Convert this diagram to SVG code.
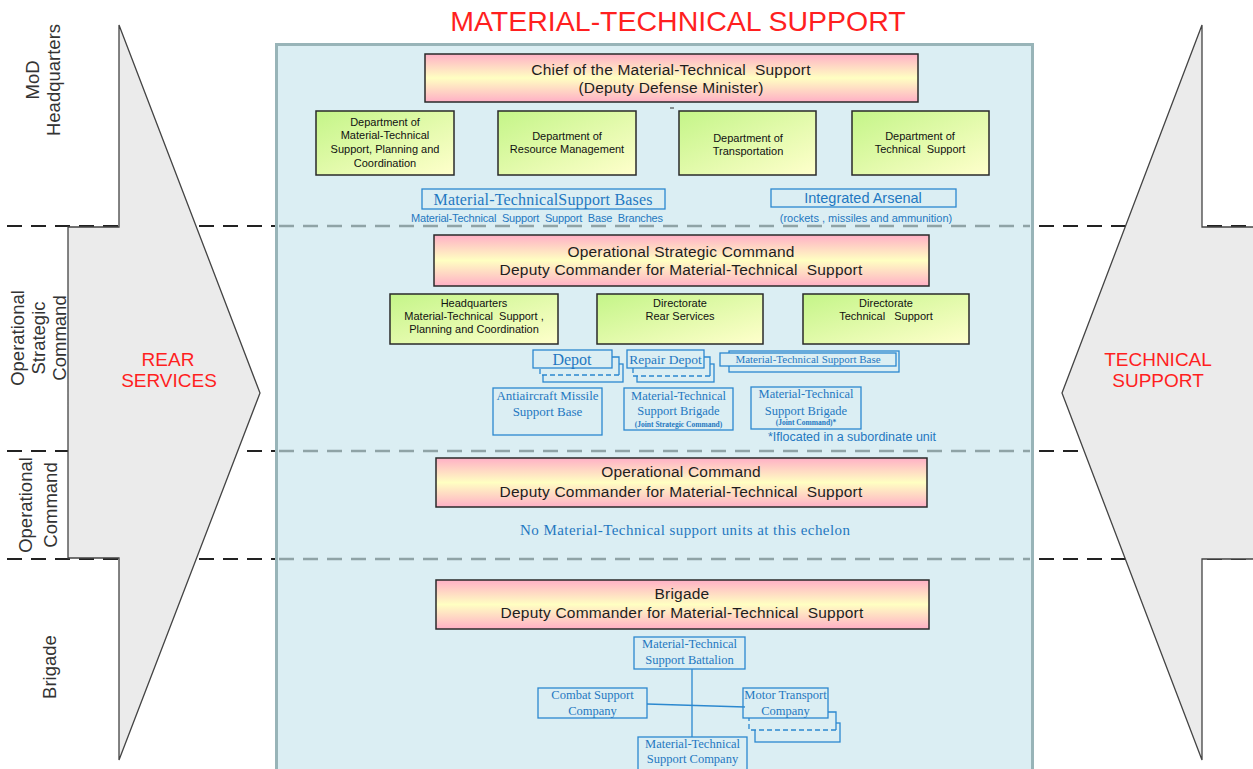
<svg xmlns="http://www.w3.org/2000/svg" width="1253" height="769" viewBox="0 0 1253 769">
<defs>
<linearGradient id="pink" x1="0" y1="0" x2="0" y2="1">
<stop offset="0" stop-color="#ffb0c6"/><stop offset="0.5" stop-color="#ffffc2"/><stop offset="1" stop-color="#ffb0c6"/>
</linearGradient>
<linearGradient id="green" x1="0" y1="0" x2="1" y2="1">
<stop offset="0" stop-color="#c4f588"/><stop offset="1" stop-color="#ffffcc"/>
</linearGradient>
<style>
.sans{font-family:"Liberation Sans",Arial,sans-serif}
.serif{font-family:"Liberation Serif","Times New Roman",serif}
.blk{stroke:#222;stroke-width:2;stroke-dasharray:15 9;fill:none}
.gry{stroke:#8fa3a6;stroke-width:2.5;stroke-dasharray:15 9;fill:none}
.arrow{fill:#ebebeb;stroke:#444;stroke-width:1.3}
.lvl{font-size:18.5px;fill:#333}
.red{fill:#ff1f1f}
.pbox{fill:url(#pink);stroke:#2a2a2a;stroke-width:1.5}
.gbox{fill:url(#green);stroke:#2a2a2a;stroke-width:1.5}
.ptxt{font-size:15.5px;fill:#1e1e1e;text-anchor:middle;letter-spacing:0.2px}
.gtxt{font-size:11px;fill:#111;text-anchor:middle}
.bbox{fill:#dbeef3;stroke:#2b88cf;stroke-width:1.3}
.bline{fill:none;stroke:#2b88cf;stroke-width:1.3}
.bdash{fill:none;stroke:#2b88cf;stroke-width:1.3;stroke-dasharray:5 3}
.btxt{fill:#1f78c1;text-anchor:middle}
</style>
</defs>
<rect width="1253" height="769" fill="#ffffff"/>

<g id="level-lines">
<line class="blk" x1="7" y1="226" x2="1253" y2="226"/>
<line class="blk" x1="7" y1="451" x2="1253" y2="451"/>
<line class="blk" x1="7" y1="559" x2="1253" y2="559"/>
</g>

<g id="rear-services-arrow">
<polygon class="arrow" points="119,25 260,393 119,760 119,558 68,558 68,227 119,227"/>
<text class="sans red" font-size="19" text-anchor="middle" x="168" y="366">REAR</text>
<text class="sans red" font-size="19" text-anchor="middle" x="169" y="387">SERVICES</text>
</g>
<g id="technical-support-arrow">
<polygon class="arrow" points="1202,25 1062,393 1202,760 1202,559 1262,559 1262,227 1202,227"/>
<text class="sans red" font-size="19" text-anchor="middle" x="1158" y="366">TECHNICAL</text>
<text class="sans red" font-size="19" text-anchor="middle" x="1158" y="387">SUPPORT</text>
</g>

<g id="level-labels" class="sans lvl" text-anchor="middle">
<text transform="translate(39,80) rotate(-90)">MoD</text>
<text transform="translate(60,80) rotate(-90)">Headquarters</text>
<text transform="translate(24,338) rotate(-90)">Operational</text>
<text transform="translate(45,338) rotate(-90)">Strategic</text>
<text transform="translate(66,338) rotate(-90)">Command</text>
<text transform="translate(32,505) rotate(-90)">Operational</text>
<text transform="translate(57,505) rotate(-90)">Command</text>
<text transform="translate(56,667) rotate(-90)">Brigade</text>
</g>

<text id="title" class="sans red" font-size="28.5" text-anchor="middle" x="678" y="31">MATERIAL-TECHNICAL SUPPORT</text>

<g id="panel">
<rect x="276.5" y="44.5" width="756" height="740" fill="#dbeef3" stroke="#98b4b8" stroke-width="3"/>
<line class="gry" x1="279" y1="226" x2="1030" y2="226"/>
<line class="gry" x1="279" y1="451" x2="1030" y2="451"/>
<line class="gry" x1="279" y1="559" x2="1030" y2="559"/>
</g>

<!-- MoD level -->
<g id="chief" class="sans">
<rect class="pbox" x="425" y="54" width="493" height="48"/>
<text class="ptxt" x="671" y="75" xml:space="preserve">Chief of the Material-Technical  Support</text>
<text class="ptxt" x="671" y="93">(Deputy Defense Minister)</text>
<line x1="670" y1="108" x2="674" y2="108" stroke="#333" stroke-width="1"/>
</g>
<g id="dept-mts-planning" class="sans">
<rect class="gbox" x="316" y="111" width="138" height="64"/>
<text class="gtxt" x="385" y="126">Department of</text>
<text class="gtxt" x="385" y="139">Material-Technical</text>
<text class="gtxt" x="385" y="153">Support, Planning and</text>
<text class="gtxt" x="385" y="167">Coordination</text>
</g>
<g id="dept-resource" class="sans">
<rect class="gbox" x="498" y="111" width="138" height="64"/>
<text class="gtxt" x="567" y="140">Department of</text>
<text class="gtxt" x="567" y="153">Resource Management</text>
</g>
<g id="dept-transport" class="sans">
<rect class="gbox" x="679" y="111" width="137" height="64"/>
<text class="gtxt" x="748" y="142">Department of</text>
<text class="gtxt" x="748" y="155">Transportation</text>
</g>
<g id="dept-technical" class="sans">
<rect class="gbox" x="852" y="111" width="137" height="64"/>
<text class="gtxt" x="920" y="140">Department of</text>
<text class="gtxt" x="920" y="153" xml:space="preserve">Technical  Support</text>
</g>
<g id="mts-bases">
<rect class="bbox" x="422" y="189" width="243" height="20"/>
<text class="serif btxt" font-size="16" x="543" y="205" textLength="219" lengthAdjust="spacing">Material-TechnicalSupport Bases</text>
<text class="sans btxt" font-size="11" x="537" y="222" xml:space="preserve" textLength="252" lengthAdjust="spacing">Material-Technical  Support  Support  Base  Branches</text>
</g>
<g id="arsenal">
<rect class="bbox" x="771" y="189" width="185" height="18"/>
<text class="sans btxt" font-size="14.5" x="863" y="203">Integrated Arsenal</text>
<text class="sans btxt" font-size="11" x="866" y="222">(rockets , missiles and ammunition)</text>
</g>

<!-- Operational Strategic Command -->
<g id="osc" class="sans">
<rect class="pbox" x="434" y="235" width="495" height="51"/>
<text class="ptxt" x="681" y="257">Operational Strategic Command</text>
<text class="ptxt" x="681" y="275" xml:space="preserve">Deputy Commander for Material-Technical  Support</text>
</g>
<g id="osc-hq" class="sans">
<rect class="gbox" x="390" y="294" width="168" height="50"/>
<text class="gtxt" x="474" y="307">Headquarters</text>
<text class="gtxt" x="474" y="320" xml:space="preserve">Material-Technical  Support ,</text>
<text class="gtxt" x="474" y="333">Planning and Coordination</text>
</g>
<g id="osc-rear" class="sans">
<rect class="gbox" x="597" y="294" width="166" height="50"/>
<text class="gtxt" x="680" y="307">Directorate</text>
<text class="gtxt" x="680" y="320">Rear Services</text>
</g>
<g id="osc-tech" class="sans">
<rect class="gbox" x="803" y="294" width="166" height="50"/>
<text class="gtxt" x="886" y="307">Directorate</text>
<text class="gtxt" x="886" y="320" xml:space="preserve">Technical   Support</text>
</g>
<g id="depot">
<rect class="bbox" x="543" y="364" width="80" height="18"/>
<rect x="540" y="357" width="79" height="18" fill="#dbeef3"/>
<path class="bline" d="M540,357 H619 V375"/>
<path class="bdash" d="M619,375 H540 V357"/>
<rect class="bbox" x="533" y="350" width="79" height="18"/>
<text class="serif btxt" font-size="16" x="572" y="365">Depot</text>
</g>
<g id="repair-depot">
<rect class="bbox" x="637" y="364" width="77" height="18"/>
<rect x="633" y="357" width="77" height="19" fill="#dbeef3"/>
<path class="bline" d="M633,357 H710 V376"/>
<path class="bdash" d="M710,376 H633 V357"/>
<rect class="bbox" x="627" y="350" width="77" height="18"/>
<text class="serif btxt" font-size="13.5" x="665.5" y="364">Repair Depot</text>
</g>
<g id="mts-base">
<rect class="bbox" x="729" y="351" width="170" height="21"/>
<rect class="bbox" x="720" y="353" width="176" height="13"/>
<text class="serif btxt" font-size="11" x="808" y="363">Material-Technical Support Base</text>
</g>
<g id="aa-missile-base">
<rect class="bbox" x="493" y="388" width="109" height="47"/>
<text class="serif btxt" font-size="13" x="547.5" y="400">Antiaircraft Missile</text>
<text class="serif btxt" font-size="13" x="547.5" y="416">Support Base</text>
</g>
<g id="mts-brigade-jsc">
<rect class="bbox" x="624" y="388" width="109" height="42"/>
<text class="serif btxt" font-size="12.5" x="678.5" y="400">Material-Technical</text>
<text class="serif btxt" font-size="12.5" x="678.5" y="415">Support Brigade</text>
<text class="serif btxt" font-size="7.5" font-weight="bold" x="678.5" y="427">(Joint Strategic Command)</text>
</g>
<g id="mts-brigade-jc">
<rect class="bbox" x="751" y="387" width="110" height="42"/>
<text class="serif btxt" font-size="12.5" x="806" y="398">Material-Technical</text>
<text class="serif btxt" font-size="12.5" x="806" y="415">Support Brigade</text>
<text class="serif btxt" font-size="7.5" font-weight="bold" x="806" y="425">(Joint Command)*</text>
</g>
<text id="footnote" class="sans btxt" font-size="12.5" x="852" y="441">*Iflocated in a subordinate unit</text>

<!-- Operational Command -->
<g id="oc" class="sans">
<rect class="pbox" x="436" y="458" width="491" height="49"/>
<text class="ptxt" x="681" y="477">Operational Command</text>
<text class="ptxt" x="681" y="497" xml:space="preserve">Deputy Commander for Material-Technical  Support</text>
</g>
<text id="oc-note" class="serif btxt" font-size="15" x="685" y="535" textLength="330" lengthAdjust="spacing">No Material-Technical support units at this echelon</text>

<!-- Brigade -->
<g id="brigade" class="sans">
<rect class="pbox" x="436" y="580" width="493" height="49"/>
<text class="ptxt" x="682" y="599">Brigade</text>
<text class="ptxt" x="682" y="618" xml:space="preserve">Deputy Commander for Material-Technical  Support</text>
</g>

<g id="connectors">
<line class="bline" x1="692" y1="669" x2="692" y2="737"/>
<line class="bline" x1="647" y1="704" x2="745" y2="707"/>
</g>

<g id="mts-battalion">
<rect class="bbox" x="634" y="637" width="111" height="32"/>
<text class="serif btxt" font-size="12.5" x="689.5" y="648">Material-Technical</text>
<text class="serif btxt" font-size="12.5" x="689.5" y="664">Support Battalion</text>
</g>
<g id="combat-support-co">
<rect class="bbox" x="538" y="688" width="109" height="30"/>
<text class="serif btxt" font-size="12.5" x="592.5" y="699">Combat Support</text>
<text class="serif btxt" font-size="12.5" x="592.5" y="715">Company</text>
</g>
<g id="motor-transport-co">
<rect class="bbox" x="755" y="723" width="85" height="19"/>
<rect x="749" y="712" width="87" height="18" fill="#dbeef3"/>
<path class="bline" d="M828,712 H836 V730"/>
<path class="bdash" d="M836,730 H749 V712"/>
<rect x="743" y="688" width="85" height="30" fill="#dbeef3"/>
<line class="bline" x1="743" y1="706.9" x2="745" y2="707"/>
<rect x="743" y="688" width="85" height="30" fill="none" stroke="#2b88cf" stroke-width="1.3"/>
<text class="serif btxt" font-size="12.5" x="785.5" y="699">Motor Transport</text>
<text class="serif btxt" font-size="12.5" x="785.5" y="715">Company</text>
</g>
<g id="mts-company">
<rect class="bbox" x="638" y="737" width="109" height="40"/>
<text class="serif btxt" font-size="12.5" x="692.5" y="748">Material-Technical</text>
<text class="serif btxt" font-size="12.5" x="692.5" y="763">Support Company</text>
</g>
</svg>
